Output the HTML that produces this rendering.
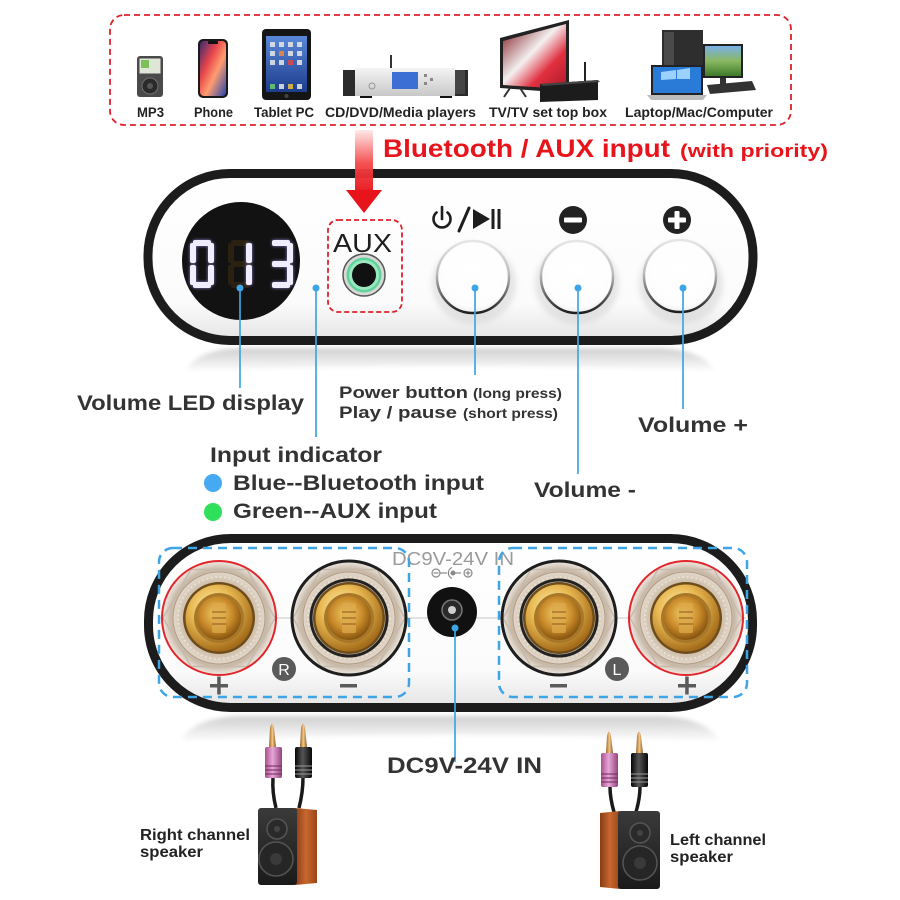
<!DOCTYPE html>
<html><head><meta charset="utf-8"><style>
html,body{margin:0;padding:0;background:#fff;}
svg{display:block;}
text{font-family:"Liberation Sans",Arial,sans-serif;}
</style></head><body>
<svg width="900" height="900" viewBox="0 0 900 900" xmlns="http://www.w3.org/2000/svg">
<defs>
 <linearGradient id="arrowG" x1="0" y1="0" x2="0" y2="1">
   <stop offset="0" stop-color="#ffe8e8"/>
   <stop offset="0.55" stop-color="#f34848"/>
   <stop offset="1" stop-color="#e8141b"/>
 </linearGradient>
 <linearGradient id="bodyG" x1="0" y1="0" x2="0" y2="1">
   <stop offset="0" stop-color="#ffffff"/>
   <stop offset="0.78" stop-color="#fbfbfb"/>
   <stop offset="1" stop-color="#e4e4e4"/>
 </linearGradient>
 <linearGradient id="btnS" x1="0" y1="0" x2="0" y2="1">
   <stop offset="0" stop-color="#e6e6e6"/>
   <stop offset="0.45" stop-color="#bdbdbd"/>
   <stop offset="1" stop-color="#1e1e1e"/>
 </linearGradient>
 <radialGradient id="btnF" cx="0.5" cy="0.4" r="0.6">
   <stop offset="0" stop-color="#ffffff"/>
   <stop offset="0.85" stop-color="#fdfdfd"/>
   <stop offset="1" stop-color="#eeeeee"/>
 </radialGradient>
 <linearGradient id="reflG" x1="0" y1="0" x2="0" y2="1">
   <stop offset="0" stop-color="#cfcfcf"/>
   <stop offset="1" stop-color="#ffffff"/>
 </linearGradient>
 <radialGradient id="clearG" cx="0.5" cy="0.5" r="0.5">
   <stop offset="0" stop-color="#efe6da"/>
   <stop offset="0.6" stop-color="#d9ccbd"/>
   <stop offset="0.85" stop-color="#c8b8a6"/>
   <stop offset="1" stop-color="#f0ebe5"/>
 </radialGradient>
 <radialGradient id="ringG" cx="0.5" cy="0.5" r="0.5">
   <stop offset="0" stop-color="#a88450"/>
   <stop offset="0.75" stop-color="#cdbca6"/>
   <stop offset="1" stop-color="#e2d8cc"/>
 </radialGradient>
 <radialGradient id="goldG" cx="0.4" cy="0.35" r="0.65">
   <stop offset="0" stop-color="#fff2b8"/>
   <stop offset="0.5" stop-color="#e9b952"/>
   <stop offset="1" stop-color="#a46c1a"/>
 </radialGradient>
 <radialGradient id="gold2" cx="0.45" cy="0.4" r="0.6">
   <stop offset="0" stop-color="#f4cf6a"/>
   <stop offset="0.6" stop-color="#c98a2a"/>
   <stop offset="1" stop-color="#86540f"/>
 </radialGradient>
 <linearGradient id="phoneG" x1="0" y1="0" x2="1" y2="1">
   <stop offset="0" stop-color="#3a2a70"/>
   <stop offset="0.35" stop-color="#e8454a"/>
   <stop offset="0.6" stop-color="#ff9c70"/>
   <stop offset="1" stop-color="#2846b0"/>
 </linearGradient>
 <linearGradient id="tabG" x1="0" y1="0" x2="0" y2="1">
   <stop offset="0" stop-color="#5a88d8"/>
   <stop offset="1" stop-color="#1d3c8c"/>
 </linearGradient>
 <linearGradient id="silverG" x1="0" y1="0" x2="0" y2="1">
   <stop offset="0" stop-color="#f4f4f4"/>
   <stop offset="1" stop-color="#c8c8c8"/>
 </linearGradient>
 <linearGradient id="tvG" x1="0" y1="0" x2="1" y2="1">
   <stop offset="0" stop-color="#7a1018"/>
   <stop offset="0.45" stop-color="#f4f0f0"/>
   <stop offset="0.7" stop-color="#e03040"/>
   <stop offset="1" stop-color="#b01828"/>
 </linearGradient>
 <linearGradient id="landG" x1="0" y1="0" x2="0" y2="1">
   <stop offset="0" stop-color="#7ab0e8"/>
   <stop offset="0.5" stop-color="#8ab860"/>
   <stop offset="1" stop-color="#3d7a2a"/>
 </linearGradient>
 <linearGradient id="woodG" x1="0" y1="0" x2="1" y2="0">
   <stop offset="0" stop-color="#8a3c14"/>
   <stop offset="0.5" stop-color="#c9672e"/>
   <stop offset="1" stop-color="#9a4618"/>
 </linearGradient>
 <linearGradient id="spkG" x1="0" y1="0" x2="0" y2="1">
   <stop offset="0" stop-color="#3a3a3a"/>
   <stop offset="1" stop-color="#1a1a1a"/>
 </linearGradient>
 <linearGradient id="pinkG" x1="0" y1="0" x2="1" y2="0">
   <stop offset="0" stop-color="#a8508e"/>
   <stop offset="0.45" stop-color="#e7a6d6"/>
   <stop offset="1" stop-color="#94447c"/>
 </linearGradient>
 <linearGradient id="blackPG" x1="0" y1="0" x2="1" y2="0">
   <stop offset="0" stop-color="#050505"/>
   <stop offset="0.45" stop-color="#555"/>
   <stop offset="1" stop-color="#080808"/>
 </linearGradient>
 <linearGradient id="tipG" x1="0" y1="0" x2="1" y2="0">
   <stop offset="0" stop-color="#9a6020"/>
   <stop offset="0.5" stop-color="#f3c98a"/>
   <stop offset="1" stop-color="#8a5418"/>
 </linearGradient>
 <filter id="blur2" x="-20%" y="-50%" width="140%" height="200%"><feGaussianBlur stdDeviation="2"/></filter>
 <filter id="blur3" x="-20%" y="-50%" width="140%" height="200%"><feGaussianBlur stdDeviation="3"/></filter>
 <filter id="glow" x="-30%" y="-30%" width="160%" height="160%"><feGaussianBlur stdDeviation="1.6"/></filter>

 <g id="post">
   <circle r="57" fill="url(#clearG)"/>
   <polygon points="56,0 28,48.5 -28,48.5 -56,0 -28,-48.5 28,-48.5" fill="none" stroke="#c6baad" stroke-width="1.5"/>
   <circle r="46" fill="url(#ringG)" stroke="#b09c86" stroke-width="1"/>
   <circle r="41" fill="none" stroke="#e9dfd2" stroke-width="2" stroke-dasharray="2 2.5"/>
   <circle r="36" fill="#6e4c1c"/>
   <circle r="33.5" fill="url(#goldG)"/>
   <circle r="25" fill="#a8782a"/>
   <circle r="22" fill="url(#gold2)"/>
   <rect x="-7" y="-15" width="14" height="30" rx="2" fill="#dcaa4c" opacity="0.75"/>
   <line x1="-7" y1="-6" x2="7" y2="-6" stroke="#8a5a18" stroke-width="1"/>
   <line x1="-7" y1="0" x2="7" y2="0" stroke="#8a5a18" stroke-width="1"/>
   <line x1="-7" y1="6" x2="7" y2="6" stroke="#8a5a18" stroke-width="1"/>
 </g>

 <rect id="sA" x="3" y="0" width="18" height="6" rx="2"/>
 <rect id="sB" x="18" y="3" width="6" height="20" rx="2"/>
 <rect id="sC" x="18" y="25" width="6" height="20" rx="2"/>
 <rect id="sD" x="3" y="42" width="18" height="6" rx="2"/>
 <rect id="sE" x="0" y="25" width="6" height="20" rx="2"/>
 <rect id="sF" x="0" y="3" width="6" height="20" rx="2"/>
 <rect id="sG" x="3" y="21" width="18" height="6" rx="2"/>
</defs>

<rect width="900" height="900" fill="#fff"/>

<!-- ===== Source devices ===== -->
<rect x="110" y="15" width="681" height="110" rx="14" fill="none" stroke="#e0202a" stroke-width="1.8" stroke-dasharray="6 4"/>

<!-- MP3 -->
<rect x="137" y="56" width="26" height="41" rx="3" fill="#4a4a4a"/>
<rect x="139.5" y="58.5" width="21" height="15" fill="#dfe6d8"/>
<rect x="141" y="60" width="8" height="8" fill="#7bbf5a"/>
<circle cx="150" cy="86" r="8" fill="#2a2a2a" stroke="#707070"/>
<circle cx="150" cy="86" r="3" fill="#555"/>
<!-- Phone -->
<rect x="198" y="39" width="30" height="59" rx="5" fill="#1a1a1a"/>
<rect x="200" y="41" width="26" height="55" rx="4" fill="url(#phoneG)"/>
<rect x="208" y="41" width="10" height="3" rx="1" fill="#111"/>
<!-- Tablet -->
<rect x="262" y="29" width="49" height="71" rx="4" fill="#151515"/>
<rect x="266" y="36" width="41" height="56" fill="url(#tabG)"/>
<g fill="#e8e8e8" opacity="0.85">
 <rect x="270" y="42" width="5" height="5"/><rect x="279" y="42" width="5" height="5"/><rect x="288" y="42" width="5" height="5"/><rect x="297" y="42" width="5" height="5"/>
 <rect x="270" y="51" width="5" height="5"/><rect x="279" y="51" width="5" height="5" fill="#f08a3a"/><rect x="288" y="51" width="5" height="5"/><rect x="297" y="51" width="5" height="5"/>
 <rect x="270" y="60" width="5" height="5"/><rect x="279" y="60" width="5" height="5"/><rect x="288" y="60" width="5" height="5" fill="#e64545"/><rect x="297" y="60" width="5" height="5"/>
 <rect x="270" y="84" width="5" height="5" fill="#6ad06a"/><rect x="279" y="84" width="5" height="5"/><rect x="288" y="84" width="5" height="5" fill="#f0c040"/><rect x="297" y="84" width="5" height="5"/>
</g>
<circle cx="286.5" cy="96" r="2" fill="#444"/>
<!-- CD / media player -->
<rect x="390" y="55" width="2" height="14" fill="#333"/>
<rect x="343" y="70" width="125" height="26" fill="#2b2b2b"/>
<rect x="355" y="68" width="100" height="28" fill="url(#silverG)"/>
<rect x="392" y="72" width="26" height="17" fill="#3b6fd4"/>
<circle cx="372" cy="86" r="3" fill="none" stroke="#999"/>
<rect x="424" y="74" width="3" height="3" fill="#888"/><rect x="430" y="78" width="3" height="3" fill="#888"/><rect x="424" y="82" width="3" height="3" fill="#888"/>
<rect x="455" y="70" width="10" height="24" fill="#444"/>
<rect x="360" y="96" width="12" height="2" fill="#111"/><rect x="440" y="96" width="12" height="2" fill="#111"/>
<!-- TV -->
<polygon points="500,38 569,20 569,93 500,88" fill="#222"/>
<polygon points="503,41 566,24 566,89 503,85" fill="url(#tvG)"/>
<line x1="510" y1="88" x2="504" y2="97" stroke="#333" stroke-width="2"/>
<line x1="520" y1="88" x2="526" y2="97" stroke="#333" stroke-width="2"/>
<line x1="585" y1="62" x2="585" y2="82" stroke="#222" stroke-width="2"/>
<polygon points="540,84 598,80 598,100 540,102" fill="#1c1c1c"/>
<polygon points="540,84 598,80 600,82 543,86" fill="#444"/>
<!-- Computer -->
<rect x="662" y="30" width="41" height="62" fill="#2e2e2e"/>
<rect x="664" y="32" width="10" height="58" fill="#4a4a4a"/>
<rect x="703" y="44" width="40" height="34" fill="#222"/>
<rect x="705" y="46" width="36" height="30" fill="url(#landG)"/>
<rect x="720" y="78" width="6" height="6" fill="#333"/>
<polygon points="707,85 752,81 756,90 710,94" fill="#333"/>
<rect x="651" y="65" width="52" height="30" fill="#222"/>
<rect x="653" y="67" width="48" height="26" fill="#2a7ad8"/>
<polygon points="661,72 676,70 676,79 661,80" fill="#9cd0ff"/>
<polygon points="677,70 690,68 690,79 677,79" fill="#9cd0ff"/>
<polygon points="647,95 707,95 703,100 651,100" fill="#bdbdbd"/>

<g font-weight="bold" font-size="13.5" fill="#222">
 <text x="137" y="117" textLength="27" lengthAdjust="spacingAndGlyphs">MP3</text>
 <text x="194" y="117" textLength="39" lengthAdjust="spacingAndGlyphs">Phone</text>
 <text x="254" y="117" textLength="60" lengthAdjust="spacingAndGlyphs">Tablet PC</text>
 <text x="325" y="117" textLength="151" lengthAdjust="spacingAndGlyphs">CD/DVD/Media players</text>
 <text x="489" y="117" textLength="118" lengthAdjust="spacingAndGlyphs">TV/TV set top box</text>
 <text x="625" y="117" textLength="148" lengthAdjust="spacingAndGlyphs">Laptop/Mac/Computer</text>
</g>

<!-- Heading -->
<text x="383" y="157" font-size="25" font-weight="bold" fill="#e8141b" textLength="287" lengthAdjust="spacingAndGlyphs">Bluetooth / AUX input</text>
<text x="680" y="157" font-size="18" font-weight="bold" fill="#e8141b" textLength="148" lengthAdjust="spacingAndGlyphs">(with priority)</text>

<!-- ===== Top device ===== -->
<path d="M 185 372 Q 195 350 240 348 L 660 348 Q 705 350 715 372 Q 450 360 185 372 Z" fill="url(#reflG)" filter="url(#blur2)"/>
<rect x="148" y="173.5" width="605" height="167" rx="82" ry="82" fill="url(#bodyG)" stroke="#1c1c1c" stroke-width="9"/>

<!-- display -->
<circle cx="241" cy="261" r="59" fill="#121212"/>
<g fill="#2a2112">
 <g transform="translate(228,240)"><use href="#sA"/><use href="#sB"/><use href="#sC"/><use href="#sD"/><use href="#sE"/><use href="#sF"/><use href="#sG"/></g>
</g>
<g fill="#a99cff" filter="url(#glow)" opacity="0.8">
 <g transform="translate(190,240)"><use href="#sA"/><use href="#sB"/><use href="#sC"/><use href="#sD"/><use href="#sE"/><use href="#sF"/></g>
 <g transform="translate(228,240)"><use href="#sB"/><use href="#sC"/></g>
 <g transform="translate(269,240)"><use href="#sA"/><use href="#sB"/><use href="#sC"/><use href="#sD"/><use href="#sG"/></g>
</g>
<g fill="#efedff">
 <g transform="translate(190,240)"><use href="#sA"/><use href="#sB"/><use href="#sC"/><use href="#sD"/><use href="#sE"/><use href="#sF"/></g>
 <g transform="translate(228,240)"><use href="#sB"/><use href="#sC"/></g>
 <g transform="translate(269,240)"><use href="#sA"/><use href="#sB"/><use href="#sC"/><use href="#sD"/><use href="#sG"/></g>
</g>

<!-- AUX -->
<rect x="328" y="220" width="74" height="92" rx="10" fill="none" stroke="#e0202a" stroke-width="1.8" stroke-dasharray="5 3"/>
<text x="333" y="252" font-size="26" fill="#1e1e1e" textLength="59" lengthAdjust="spacingAndGlyphs">AUX</text>
<circle cx="364" cy="275" r="21" fill="#d8d8d8" stroke="#555" stroke-width="1.5"/>
<circle cx="364" cy="275" r="17.5" fill="#5fd39a"/>
<circle cx="364" cy="275" r="15" fill="#9ae8c0"/>
<circle cx="364" cy="275" r="12" fill="#111"/>

<!-- icons above buttons -->
<g stroke="#1e1e1e" fill="none" stroke-width="2.6" stroke-linecap="round">
 <path d="M 436.5 212.5 A 8.5 8.5 0 1 0 447.5 212.5"/>
 <line x1="442" y1="207" x2="442" y2="219"/>
 <line x1="469" y1="208" x2="459" y2="231" stroke-width="3"/>
</g>
<polygon points="473,209 473,229 490,219" fill="#1e1e1e"/>
<rect x="491.5" y="209" width="3" height="20" fill="#1e1e1e"/>
<rect x="497.5" y="209" width="3" height="20" fill="#1e1e1e"/>
<circle cx="573" cy="220" r="14" fill="#222"/>
<rect x="564" y="217.5" width="18" height="5" rx="1" fill="#fff"/>
<circle cx="677" cy="220" r="14" fill="#222"/>
<rect x="668" y="217.5" width="18" height="5" rx="1" fill="#fff"/>
<rect x="674.5" y="211" width="5" height="18" rx="1" fill="#fff"/>

<!-- buttons -->
<g>
 <ellipse cx="474" cy="284" rx="42" ry="40" fill="#cfcfcf" opacity="0.5" filter="url(#blur3)"/>
 <ellipse cx="577" cy="284" rx="42" ry="40" fill="#cfcfcf" opacity="0.5" filter="url(#blur3)"/>
 <ellipse cx="681" cy="284" rx="42" ry="40" fill="#cfcfcf" opacity="0.5" filter="url(#blur3)"/>
 <circle cx="473" cy="277" r="36" fill="url(#btnF)" stroke="url(#btnS)" stroke-width="2.5"/>
 <circle cx="577" cy="277" r="36" fill="url(#btnF)" stroke="url(#btnS)" stroke-width="2.5"/>
 <circle cx="680" cy="276" r="36" fill="url(#btnF)" stroke="url(#btnS)" stroke-width="2.5"/>
</g>

<!-- leader lines top -->
<g stroke="#3da5e6" stroke-width="1.7">
 <line x1="240" y1="288" x2="240" y2="388"/>
 <line x1="316" y1="288" x2="316" y2="437"/>
 <line x1="475" y1="288" x2="475" y2="375"/>
 <line x1="578" y1="288" x2="578" y2="474"/>
 <line x1="683" y1="288" x2="683" y2="409"/>
</g>
<g fill="#3da5e6">
 <circle cx="240" cy="288" r="3.5"/>
 <circle cx="316" cy="288" r="3.5"/>
 <circle cx="475" cy="288" r="3.5"/>
 <circle cx="578" cy="288" r="3.5"/>
 <circle cx="683" cy="288" r="3.5"/>
</g>

<!-- red arrow -->
<rect x="355" y="130" width="18" height="61" fill="url(#arrowG)" opacity="0.95"/>
<polygon points="346,190 382,190 364,213" fill="#e8141b"/>

<!-- labels -->
<g font-weight="bold" fill="#333">
 <text x="77" y="410" font-size="21" textLength="227" lengthAdjust="spacingAndGlyphs">Volume LED display</text>
 <text x="339" y="398" font-size="17" textLength="129" lengthAdjust="spacingAndGlyphs">Power button</text>
 <text x="473" y="398" font-size="13.5" textLength="89" lengthAdjust="spacingAndGlyphs">(long press)</text>
 <text x="339" y="418" font-size="17" textLength="118" lengthAdjust="spacingAndGlyphs">Play / pause</text>
 <text x="463" y="418" font-size="13.5" textLength="95" lengthAdjust="spacingAndGlyphs">(short press)</text>
 <text x="638" y="432" font-size="21" textLength="110" lengthAdjust="spacingAndGlyphs">Volume +</text>
 <text x="210" y="462" font-size="21" textLength="172" lengthAdjust="spacingAndGlyphs">Input indicator</text>
 <text x="233" y="490" font-size="21" textLength="251" lengthAdjust="spacingAndGlyphs">Blue--Bluetooth input</text>
 <text x="233" y="518" font-size="21" textLength="204" lengthAdjust="spacingAndGlyphs">Green--AUX input</text>
 <text x="534" y="497" font-size="21" textLength="102" lengthAdjust="spacingAndGlyphs">Volume -</text>
</g>
<circle cx="213" cy="483" r="9" fill="#45aaf2"/>
<circle cx="213" cy="512" r="9" fill="#2ee05a"/>

<!-- ===== Bottom device ===== -->
<path d="M 180 742 Q 192 718 240 716 L 660 716 Q 708 718 720 742 Q 450 728 180 742 Z" fill="url(#reflG)" filter="url(#blur2)"/>
<rect x="148.5" y="538.5" width="604" height="169" rx="82" ry="82" fill="url(#bodyG)" stroke="#1c1c1c" stroke-width="9"/>

<line x1="160" y1="618" x2="746" y2="618" stroke="#c8c8c8" stroke-width="1"/>

<!-- posts -->
<use href="#post" x="219" y="618"/>
<circle cx="219" cy="618" r="57" fill="none" stroke="#e2262b" stroke-width="2"/>
<use href="#post" x="349" y="618"/>
<circle cx="349" cy="618" r="57" fill="none" stroke="#1e1e1e" stroke-width="3"/>
<circle cx="349" cy="618" r="38" fill="none" stroke="#222" stroke-width="3"/>
<use href="#post" x="559" y="618"/>
<circle cx="559" cy="618" r="57" fill="none" stroke="#1e1e1e" stroke-width="3"/>
<circle cx="559" cy="618" r="38" fill="none" stroke="#222" stroke-width="3"/>
<use href="#post" x="686" y="618"/>
<circle cx="686" cy="618" r="57" fill="none" stroke="#e2262b" stroke-width="2"/>

<!-- DC jack -->
<text x="392" y="565" font-size="18" fill="#9a9a9a" textLength="122" lengthAdjust="spacingAndGlyphs">DC9V-24V IN</text>
<g stroke="#8a8a8a" stroke-width="1.2" fill="none">
 <circle cx="436" cy="573" r="4"/>
 <line x1="433.5" y1="573" x2="438.5" y2="573"/>
 <line x1="440" y1="573" x2="447" y2="573"/>
 <path d="M 452 567.5 A 6 6 0 0 0 452 578.5"/>
 <line x1="455" y1="573" x2="461" y2="573"/>
 <circle cx="468" cy="573" r="4"/>
 <line x1="465.5" y1="573" x2="470.5" y2="573"/>
 <line x1="468" y1="570.5" x2="468" y2="575.5"/>
</g>
<circle cx="453" cy="573" r="2.5" fill="#8a8a8a"/>
<circle cx="452" cy="612" r="25" fill="#111"/>
<circle cx="452" cy="610" r="10" fill="#2a2a2a" stroke="#777" stroke-width="1.5"/>
<circle cx="452" cy="610" r="4" fill="#cfcfcf"/>

<!-- dashed boxes -->
<rect x="159" y="548" width="250" height="149" rx="14" fill="none" stroke="#3da5e6" stroke-width="2.5" stroke-dasharray="9 6"/>
<rect x="499" y="548" width="248" height="149" rx="14" fill="none" stroke="#3da5e6" stroke-width="2.5" stroke-dasharray="9 6"/>

<!-- R / L and +/- -->
<circle cx="284" cy="669" r="12" fill="#5a5a5a"/>
<text x="284" y="675" font-size="16" fill="#fff" text-anchor="middle">R</text>
<circle cx="617" cy="669" r="12" fill="#5a5a5a"/>
<text x="617" y="675" font-size="16" fill="#fff" text-anchor="middle">L</text>
<g fill="#5a5a5a">
 <rect x="210" y="684" width="18" height="3.5"/><rect x="217.2" y="676.5" width="3.5" height="18"/>
 <rect x="340" y="684" width="17" height="3.5"/>
 <rect x="550" y="684" width="17" height="3.5"/>
 <rect x="678" y="684" width="18" height="3.5"/><rect x="685.2" y="676.5" width="3.5" height="18"/>
</g>

<!-- DC leader -->
<line x1="455" y1="628" x2="455" y2="762" stroke="#3da5e6" stroke-width="1.7"/>
<circle cx="455" cy="628" r="3.5" fill="#3da5e6"/>
<text x="387" y="773" font-size="22" font-weight="bold" fill="#333" textLength="155" lengthAdjust="spacingAndGlyphs">DC9V-24V IN</text>

<!-- Right speaker plugs -->
<g>
 <path d="M 273 778 Q 272 792 276 808" stroke="#1a1a1a" stroke-width="3.5" fill="none"/>
 <path d="M 303 778 Q 303 792 299 808" stroke="#1a1a1a" stroke-width="3.5" fill="none"/>
 <path d="M 269 747 L 270 728 Q 272 719 274 728 L 276 747 Z" fill="url(#tipG)"/>
 <path d="M 300 747 L 301 728 Q 303 719 305 728 L 307 747 Z" fill="url(#tipG)"/>
 <rect x="265" y="747" width="17" height="31" rx="2" fill="url(#pinkG)"/>
 <rect x="295" y="747" width="17" height="31" rx="2" fill="url(#blackPG)"/>
 <g stroke="#6e2a5c" stroke-width="1"><line x1="265" y1="766" x2="282" y2="766"/><line x1="265" y1="770" x2="282" y2="770"/><line x1="265" y1="774" x2="282" y2="774"/></g>
 <g stroke="#999" stroke-width="1"><line x1="295" y1="766" x2="312" y2="766"/><line x1="295" y1="770" x2="312" y2="770"/><line x1="295" y1="774" x2="312" y2="774"/></g>
</g>
<!-- Right speaker -->
<polygon points="295,808 317,810 317,883 295,885" fill="url(#woodG)"/>
<rect x="258" y="808" width="39" height="77" rx="3" fill="url(#spkG)"/>
<circle cx="277" cy="829" r="10" fill="#2a2a2a" stroke="#555" stroke-width="1.5"/>
<circle cx="277" cy="829" r="3" fill="#444"/>
<circle cx="276" cy="859" r="17" fill="#262626" stroke="#555" stroke-width="1.5"/>
<circle cx="276" cy="859" r="6" fill="#3a3a3a"/>

<!-- Left speaker plugs -->
<g>
 <path d="M 610 787 Q 610 798 614 812" stroke="#1a1a1a" stroke-width="3.5" fill="none"/>
 <path d="M 640 787 Q 640 798 636 812" stroke="#1a1a1a" stroke-width="3.5" fill="none"/>
 <path d="M 606 753 L 607 736 Q 609 727 611 736 L 613 753 Z" fill="url(#tipG)"/>
 <path d="M 636 753 L 637 736 Q 639 727 641 736 L 643 753 Z" fill="url(#tipG)"/>
 <rect x="601" y="753" width="17" height="34" rx="2" fill="url(#pinkG)"/>
 <rect x="631" y="753" width="17" height="34" rx="2" fill="url(#blackPG)"/>
 <g stroke="#6e2a5c" stroke-width="1"><line x1="601" y1="774" x2="618" y2="774"/><line x1="601" y1="778" x2="618" y2="778"/><line x1="601" y1="782" x2="618" y2="782"/></g>
 <g stroke="#999" stroke-width="1"><line x1="631" y1="774" x2="648" y2="774"/><line x1="631" y1="778" x2="648" y2="778"/><line x1="631" y1="782" x2="648" y2="782"/></g>
</g>
<!-- Left speaker -->
<polygon points="600,813 620,811 620,889 600,887" fill="url(#woodG)"/>
<rect x="618" y="811" width="42" height="78" rx="3" fill="url(#spkG)"/>
<circle cx="640" cy="833" r="10" fill="#2a2a2a" stroke="#555" stroke-width="1.5"/>
<circle cx="640" cy="833" r="3" fill="#444"/>
<circle cx="640" cy="863" r="17" fill="#262626" stroke="#555" stroke-width="1.5"/>
<circle cx="640" cy="863" r="6" fill="#3a3a3a"/>

<g font-weight="bold" fill="#222" font-size="16">
 <text x="140" y="840" textLength="110" lengthAdjust="spacingAndGlyphs">Right channel</text>
 <text x="140" y="857" textLength="63" lengthAdjust="spacingAndGlyphs">speaker</text>
 <text x="670" y="845" textLength="96" lengthAdjust="spacingAndGlyphs">Left channel</text>
 <text x="670" y="862" textLength="63" lengthAdjust="spacingAndGlyphs">speaker</text>
</g>
</svg>
</body></html>
